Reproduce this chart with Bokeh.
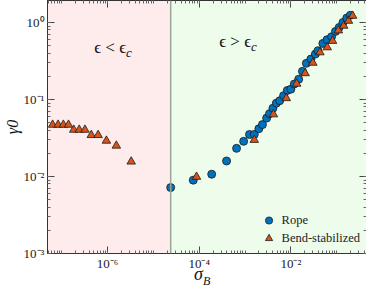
from bokeh.plotting import figure
from bokeh.layouts import column
from bokeh.models import (Range1d, FixedTicker, CustomJSTickFormatter, LogAxis,
                          BoxAnnotation, Span, Label, Legend, LegendItem, Div)
from bokeh.embed import file_html
from bokeh.resources import INLINE

# ---------------- data ----------------
sigma_rope = [2.38e-5, 7.40e-5, 1.87e-4, 3.95e-4, 6.53e-4, 9.31e-4, 1.25e-3, 1.59e-3,
              2.00e-3, 2.40e-3, 2.96e-3, 3.42e-3, 4.06e-3, 4.82e-3, 5.71e-3, 6.94e-3,
              8.35e-3, 1.00e-2, 1.19e-2, 1.48e-2, 1.79e-2, 2.18e-2, 2.74e-2, 3.43e-2,
              3.91e-2, 4.99e-2, 6.15e-2, 7.74e-2, 9.41e-2, 0.113, 0.137, 0.166, 0.198]
gamma_rope = [0.00718, 0.00896, 0.0107, 0.0159, 0.0232, 0.0286, 0.0351, 0.0352,
              0.0417, 0.0472, 0.0573, 0.0655, 0.0771, 0.0895, 0.0964, 0.112,
              0.131, 0.136, 0.159, 0.183, 0.232, 0.295, 0.335, 0.389,
              0.430, 0.535, 0.597, 0.653, 0.765, 0.862, 1.0, 1.14, 1.24]

sigma_bend = [6.3e-8, 8.3e-8, 1.08e-7, 1.40e-7, 1.82e-7, 2.4e-7, 3.2e-7, 4.4e-7,
              6.2e-7, 9.4e-7, 1.55e-6, 3.27e-6, 8.73e-5, 1.59e-3, 4.16e-3, 7.96e-3,
              1.34e-2, 2.05e-2, 3.02e-2, 4.31e-2, 6.22e-2, 8.13e-2, 0.109, 0.142,
              0.181, 0.223]
gamma_bend = [0.0469, 0.0469, 0.0469, 0.0469, 0.0404, 0.0404, 0.0404, 0.0345,
              0.0345, 0.0291, 0.0251, 0.0156, 0.00989, 0.0298, 0.064, 0.104,
              0.160, 0.219, 0.299, 0.409, 0.475, 0.576, 0.788, 0.906,
              1.05, 1.22]

sigma_c = 2.38e-5
x_ticks = [1e-6, 1e-4, 1e-2]
y_ticks = [1e-3, 1e-2, 1e-1, 1.0]
series_labels = ["Rope", "Bend-stabilized"]

# ---------------- figure ----------------
FONT = "Liberation Serif"
p = figure(width=366, height=273, x_axis_type="log", y_axis_type="log",
           x_range=Range1d(4.87e-8, 0.448), y_range=Range1d(1e-3, 1.93),
           output_backend="svg", toolbar_location=None,
           min_border_left=0, min_border_right=0, min_border_top=0, min_border_bottom=0)
p.xgrid.visible = False
p.ygrid.visible = False
p.outline_line_color = "#333333"
p.background_fill_color = "white"

x_minor = [m * 10.0 ** k for k in range(-8, 1) for m in range(1, 10)]
y_minor = [m * 10.0 ** k for k in range(-3, 1) for m in range(1, 10)]

sup_js = """
const e = Math.round(Math.log10(tick));
const sup = {'-':'\u207b','0':'\u2070','1':'\u00b9','2':'\u00b2','3':'\u00b3','4':'\u2074','5':'\u2075','6':'\u2076','7':'\u2077','8':'\u2078','9':'\u2079'};
return '10' + String(e).split('').map(c => sup[c]).join('');
"""

def style_axis(ax, ticks, minor, labels=True):
    ax.ticker = FixedTicker(ticks=ticks, minor_ticks=minor)
    ax.formatter = CustomJSTickFormatter(code=sup_js)
    ax.major_tick_in = 7
    ax.major_tick_out = 0
    ax.minor_tick_in = 3
    ax.minor_tick_out = 0
    ax.axis_line_color = "#333333"
    ax.major_tick_line_color = "#444444"
    ax.minor_tick_line_color = "#666666"
    ax.major_label_text_font = FONT
    ax.major_label_text_font_size = "13px"
    ax.major_label_text_color = "#222222"
    if not labels:
        ax.major_label_text_font_size = "0px"
        ax.major_label_standoff = 0

style_axis(p.xaxis[0], x_ticks, x_minor)
style_axis(p.yaxis[0], y_ticks, y_minor)
p.xaxis[0].major_label_standoff = 2
p.yaxis[0].major_label_standoff = 3

p.yaxis[0].axis_label = "\u03b30"
p.yaxis[0].axis_label_text_font = FONT
p.yaxis[0].axis_label_text_font_style = "italic"
p.yaxis[0].axis_label_text_font_size = "16px"
p.yaxis[0].axis_label_text_color = "#111111"
p.yaxis[0].axis_label_standoff = 0

top_ax = LogAxis()
style_axis(top_ax, x_ticks, x_minor, labels=False)
p.add_layout(top_ax, "above")
right_ax = LogAxis()
style_axis(right_ax, y_ticks, y_minor, labels=False)
p.add_layout(right_ax, "right")

# background regions
p.add_layout(BoxAnnotation(right=sigma_c, fill_color="#fdeceb", fill_alpha=1.0,
                           line_alpha=0, level="underlay"))
p.add_layout(BoxAnnotation(left=sigma_c, fill_color="#eefcec", fill_alpha=1.0,
                           line_alpha=0, level="underlay"))
p.add_layout(Span(location=sigma_c, dimension="height", line_color="#9aa59a",
                  line_width=1.5))

# data
r_rope = p.scatter(sigma_rope, gamma_rope, marker="circle", size=8,
                   fill_color="#0072BD", line_color="#1a1a1a", line_width=0.8)
r_bend = p.scatter(sigma_bend, gamma_bend, marker="triangle", size=8.5,
                   fill_color="#D95319", line_color="#1a1a1a", line_width=0.8)

legend = Legend(items=[LegendItem(label=series_labels[0], renderers=[r_rope]),
                       LegendItem(label=series_labels[1], renderers=[r_bend])],
                location="bottom_right")
legend.background_fill_alpha = 0
legend.border_line_alpha = 0
legend.label_text_font = FONT
legend.label_text_font_size = "12.5px"
legend.label_text_color = "#222222"
legend.glyph_width = 18
legend.glyph_height = 18
legend.spacing = -4
legend.label_standoff = 4
legend.padding = 2
legend.margin = 4
legend.label_height = 14
p.add_layout(legend)

# region texts
for xr, yv, txt in [(2.52e-6, 0.475, "\u03f5 < \u03f5"), (1.35e-3, 0.568, "\u03f5 > \u03f5")]:
    p.add_layout(Label(x=xr, y=yv, text=txt, text_align="right", text_baseline="middle",
                       text_font=FONT, text_font_size="17px", text_color="#111111"))
    p.add_layout(Label(x=xr, y=yv, y_offset=-5, text="c", text_align="left",
                       text_baseline="middle", text_font=FONT, text_font_style="italic",
                       text_font_size="13px", text_color="#111111"))

# x-axis label (sigma with subscript B) below the figure
xlabel = Div(text="<i>\u03c3</i><sub style='font-size:12px'><i>B</i></sub>",
             width=366, height=18, margin=(-8, 0, 0, 0),
             styles={"font-family": FONT, "font-size": "18px", "line-height": "18px",
                     "color": "#111111", "padding-left": "194px", "box-sizing": "border-box"})

layout = column(p, xlabel, spacing=0)
open("out.html", "w").write(file_html(layout, INLINE))
